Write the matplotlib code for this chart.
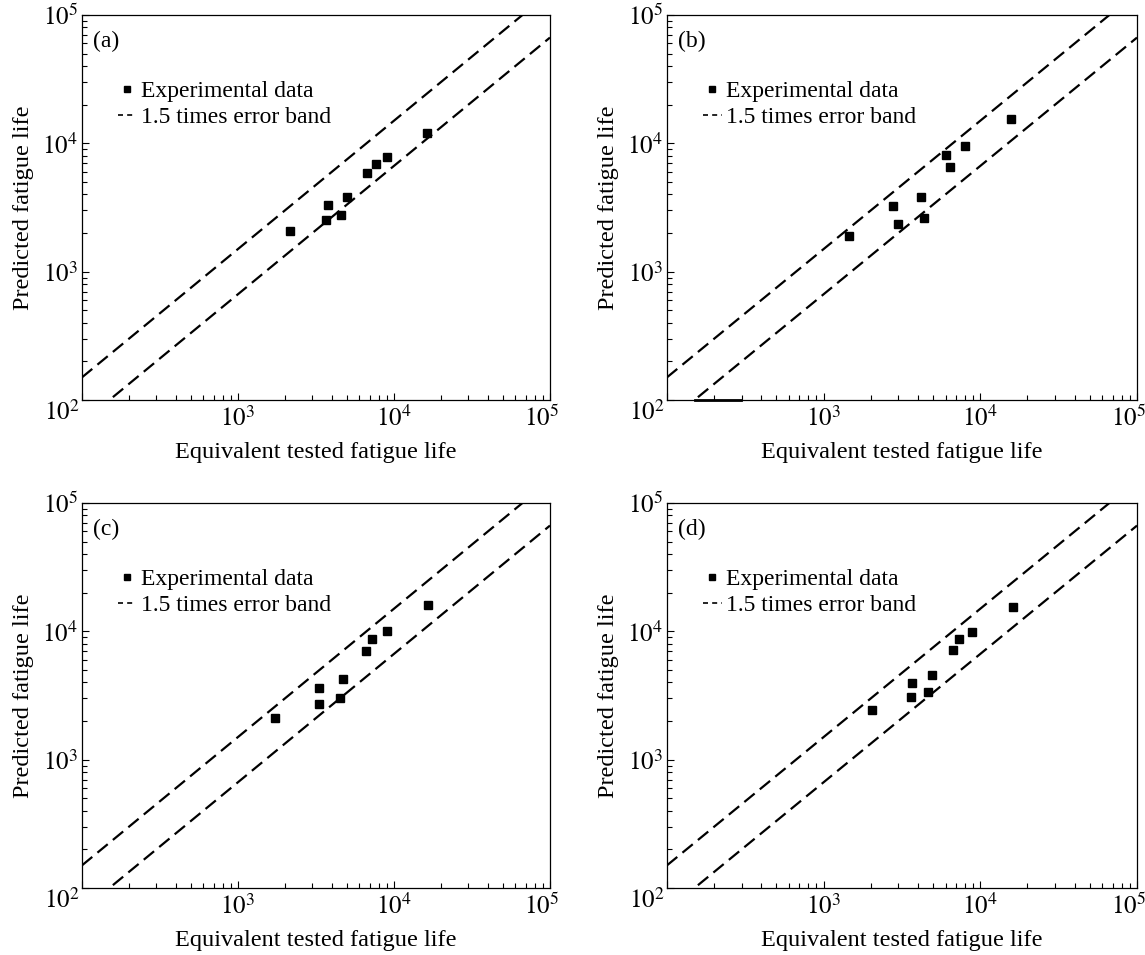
import matplotlib
matplotlib.use('Agg')
import matplotlib.pyplot as plt
from matplotlib.lines import Line2D
from matplotlib.ticker import LogLocator, NullFormatter
from matplotlib.transforms import ScaledTranslation

plt.rcParams['font.family'] = ['Liberation Serif', 'DejaVu Serif']
plt.rcParams['mathtext.fontset'] = 'stix'

# data
tags = ['(a)', '(b)', '(c)', '(d)']

tested_a = [2150, 3650, 3800, 4600, 4970, 6720, 7680, 9000, 16200]
pred_a = [2090, 2540, 3310, 2780, 3820, 5870, 6960, 7830, 12000]

tested_b = [1460, 2770, 2980, 4200, 4350, 6000, 6440, 7980, 15600]
pred_b = [1880, 3270, 2355, 3850, 2615, 8150, 6550, 9600, 15600]

tested_c = [1720, 3300, 3300, 4680, 4540, 6610, 7270, 9080, 16600]
pred_c = [2110, 3600, 2690, 4240, 3010, 7030, 8720, 10060, 16000]

tested_d = [2030, 3620, 3650, 4660, 4890, 6690, 7300, 8910, 16100]
pred_d = [2430, 3055, 3930, 3340, 4565, 7155, 8740, 9945, 15350]

tested = [tested_a, tested_b, tested_c, tested_d]
predicted = [pred_a, pred_b, pred_c, pred_d]

band = 1.5
line_x = [1e2, 1e5]
stray_x = [150, 297]   # short solid stroke sitting on the x axis of (b)

tick_vals = [1e2, 1e3, 1e4, 1e5]
tick_txt = ['', '$10^{3}$', '$10^{4}$', '$10^{5}$']

fig = plt.figure(figsize=(11.45, 9.55), dpi=100)

rects = [(0.0716, 0.5812, 0.4087, 0.4031),
         (0.5825, 0.5812, 0.4105, 0.4031),
         (0.0716, 0.0702, 0.4087, 0.4031),
         (0.5825, 0.0702, 0.4105, 0.4031)]

for i in range(4):
    ax = fig.add_axes(rects[i])
    ax.set_xscale('log')
    ax.set_yscale('log')

    ax.plot(line_x, [v * band for v in line_x], color='black', lw=1.6, dashes=(6, 3))
    ax.plot(line_x, [v / band for v in line_x], color='black', lw=1.6, dashes=(6, 3))
    ax.plot(tested[i], predicted[i], 's', color='black', ms=5.5, linestyle='none')

    if i == 1:
        ax.plot(stray_x, [1e2, 1e2], color='black', lw=2.0, clip_on=False)

    ax.set_xlim(1e2, 1e5)
    ax.set_ylim(1e2, 1e5)

    ax.set_xticks(tick_vals)
    ax.set_xticklabels(tick_txt)
    ax.set_yticks(tick_vals)
    ax.set_yticklabels(tick_txt)
    for a in (ax.xaxis, ax.yaxis):
        a.set_minor_locator(LogLocator(base=10, subs=range(2, 10)))
        a.set_minor_formatter(NullFormatter())

    ax.tick_params(which='both', direction='in', top=False, right=False, labelsize=18)
    ax.tick_params(which='major', length=5, width=0.8)
    ax.tick_params(which='minor', length=3.5, width=0.8)
    ax.tick_params(axis='x', pad=4)
    ax.tick_params(axis='y', pad=3)
    for s in ax.spines.values():
        s.set_linewidth(0.9)

    # the 10^5 label sits a little left of its tick, as in the original
    last = ax.xaxis.get_major_ticks()[-1].label1
    last.set_transform(last.get_transform() + ScaledTranslation(-0.08, 0, fig.dpi_scale_trans))

    ax.text(-0.004, -0.032, '$10^{2}$', transform=ax.transAxes,
            ha='right', va='center', fontsize=18)
    ax.text(0.024, 0.93, tags[i], transform=ax.transAxes,
            ha='left', va='center', fontsize=17)

    ax.set_xlabel('Equivalent tested fatigue life', fontsize=17.5, labelpad=8)
    ax.set_ylabel('Predicted fatigue life', fontsize=17.5, labelpad=6)

    handles = [Line2D([], [], marker='s', color='black', ms=5, linestyle='none'),
               Line2D([], [], color='black', lw=1.2, dashes=(3, 2.5))]
    ax.legend(handles, ['Experimental data', '1.5 times error band'],
              loc='upper left', bbox_to_anchor=(0.076, 0.83), frameon=False,
              fontsize=17, handlelength=0.8, handletextpad=0.2,
              labelspacing=0.2, borderpad=0, borderaxespad=0)

fig.savefig('out.png', dpi=100)
